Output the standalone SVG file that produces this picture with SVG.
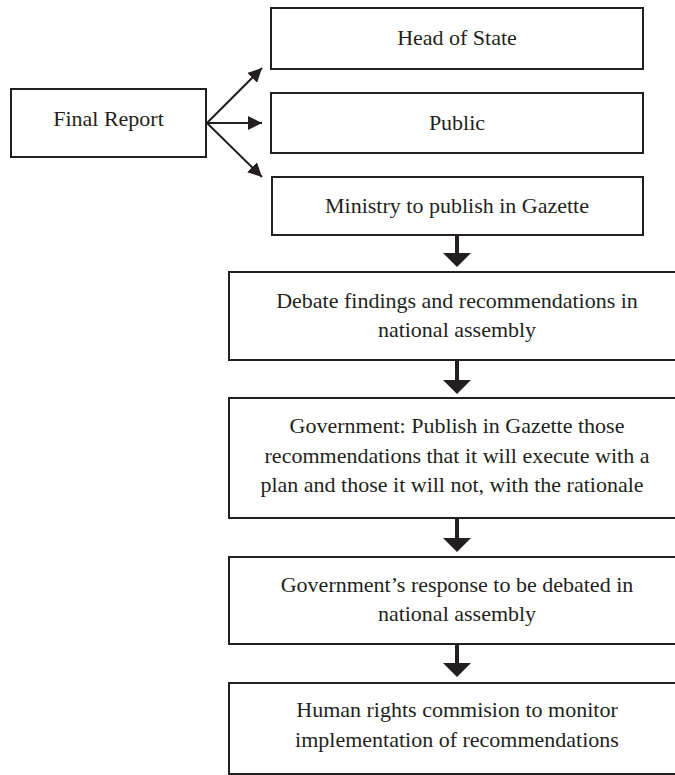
<svg xmlns="http://www.w3.org/2000/svg" width="675" height="775" viewBox="0 0 675 775">
<style>
.box{fill:#fff;stroke:#231f20;stroke-width:2}
text{font-family:"Liberation Serif","Times New Roman",serif;font-size:22px;fill:#231f20;text-anchor:middle}
.ln{stroke:#231f20;stroke-width:2;fill:none}
.sh{stroke:#231f20;stroke-width:4;fill:none}
.hd{fill:#231f20}
</style>
<defs>
<marker id="ah" viewBox="0 0 10 10" refX="10" refY="5" markerWidth="7" markerHeight="7" orient="auto" markerUnits="strokeWidth">
<path d="M0,0 L10,5 L0,10 Z" fill="#231f20"/>
</marker>
</defs>
<rect width="675" height="775" fill="#fff"/>
<g id="connectors">
<line class="ln" x1="207" y1="123" x2="262" y2="68" marker-end="url(#ah)"/>
<line class="ln" x1="207" y1="123" x2="262" y2="123" marker-end="url(#ah)"/>
<line class="ln" x1="207" y1="123" x2="262" y2="177" marker-end="url(#ah)"/>
<line class="sh" x1="457" y1="235" x2="457" y2="254"/>
<path class="hd" d="M443,253 L471,253 L457,267 Z"/>
<line class="sh" x1="457" y1="360" x2="457" y2="381"/>
<path class="hd" d="M443,380 L471,380 L457,394 Z"/>
<line class="sh" x1="457" y1="518" x2="457" y2="539"/>
<path class="hd" d="M443,538 L471,538 L457,552 Z"/>
<line class="sh" x1="457" y1="644" x2="457" y2="664"/>
<path class="hd" d="M443,663 L471,663 L457,677 Z"/>
</g>
<g id="final-report">
<rect class="box" x="11" y="89" width="195" height="68"/>
<text x="108.5" y="126">Final Report</text>
</g>
<g id="head-of-state">
<rect class="box" x="271" y="8" width="372" height="61"/>
<text x="457" y="45">Head of State</text>
</g>
<g id="public">
<rect class="box" x="271" y="93" width="372" height="60"/>
<text x="457" y="130">Public</text>
</g>
<g id="ministry">
<rect class="box" x="272" y="177" width="371" height="58"/>
<text x="457" y="213">Ministry to publish in Gazette</text>
</g>
<g id="debate">
<rect class="box" x="229" y="272" width="456" height="88"/>
<text x="457" y="308">Debate findings and recommendations in</text>
<text x="457" y="337">national assembly</text>
</g>
<g id="government">
<rect class="box" x="229" y="398" width="456" height="120"/>
<text x="457" y="433">Government: Publish in Gazette those</text>
<text x="457" y="463">recommendations that it will execute with a</text>
<text x="452" y="492">plan and those it will not, with the rationale</text>
</g>
<g id="response">
<rect class="box" x="229" y="557" width="456" height="87"/>
<text x="457" y="592">Government’s response to be debated in</text>
<text x="457" y="621">national assembly</text>
</g>
<g id="monitor">
<rect class="box" x="229" y="683" width="456" height="91"/>
<text x="457" y="717">Human rights commision to monitor</text>
<text x="457" y="747">implementation of recommendations</text>
</g>
</svg>
